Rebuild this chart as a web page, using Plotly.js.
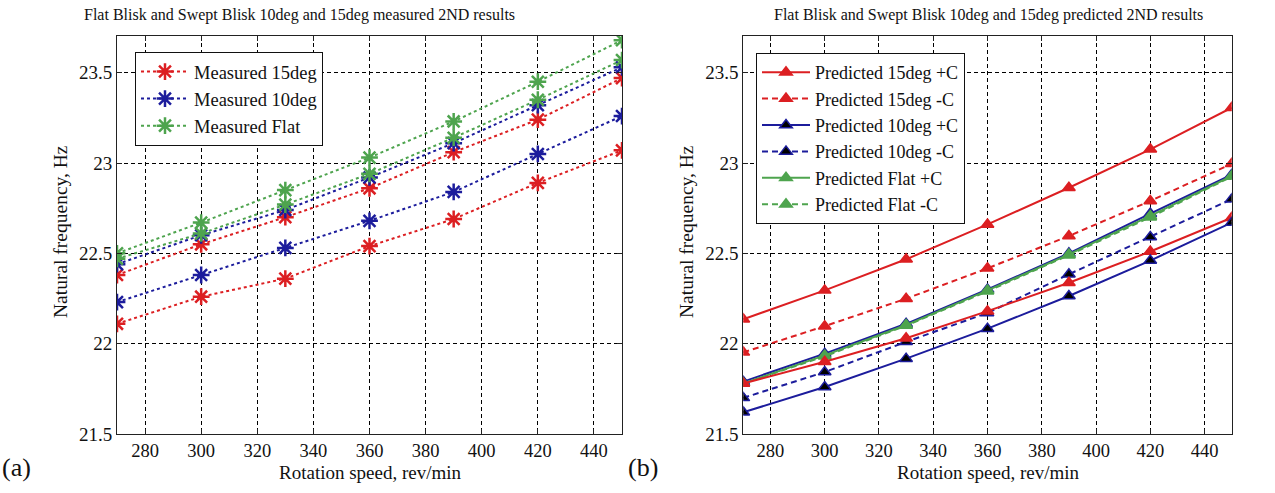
<!DOCTYPE html>
<html>
<head>
<meta charset="utf-8">
<script src="https://cdn.plot.ly/plotly-3.0.1.min.js"></script>
<style>html,body{margin:0;padding:0;background:#fff;}#chart{width:1275px;height:493px;}</style>
</head>
<body>
<div id="chart"></div>
<script>
// ---- data ----
var speeds = [270, 300, 330, 360, 390, 420, 450];
var xTicks = [280, 300, 320, 340, 360, 380, 400, 420, 440];
var yTicks = [21.5, 22, 22.5, 23, 23.5];

// (a) measured
var meas15A   = [22.38, 22.55, 22.70, 22.86, 23.06, 23.24, 23.47];
var meas15B   = [22.11, 22.26, 22.36, 22.54, 22.69, 22.89, 23.07];
var meas10A   = [22.44, 22.60, 22.74, 22.92, 23.11, 23.32, 23.53];
var meas10B   = [22.23, 22.38, 22.53, 22.68, 22.84, 23.05, 23.26];
var measFlatA = [22.50, 22.67, 22.85, 23.03, 23.23, 23.45, 23.68];
var measFlatB = [22.47, 22.61, 22.77, 22.94, 23.14, 23.35, 23.57];

// (b) predicted
var pred15P    = [22.135, 22.295, 22.467, 22.66, 22.863, 23.076, 23.306];
var pred15M    = [21.952, 22.097, 22.249, 22.417, 22.596, 22.79, 22.996];
var pred15PLow = [21.78, 21.90, 22.03, 22.18, 22.337, 22.51, 22.697];
var pred10P    = [21.79, 21.945, 22.11, 22.30, 22.50, 22.72, 22.935];
var pred10M    = [21.70, 21.843, 22.01, 22.17, 22.384, 22.59, 22.80];
var pred10PLow = [21.62, 21.76, 21.917, 22.083, 22.264, 22.46, 22.67];
var predFlatP  = [21.78, 21.935, 22.103, 22.295, 22.494, 22.707, 22.928];
var predFlatM  = [21.78, 21.93, 22.10, 22.29, 22.49, 22.70, 22.925];

var namesA = ['Measured 15deg', 'Measured 10deg', 'Measured Flat'];
var namesB = ['Predicted 15deg +C', 'Predicted 15deg -C', 'Predicted 10deg +C',
              'Predicted 10deg -C', 'Predicted Flat +C', 'Predicted Flat -C'];
var titleA = 'Flat Blisk and Swept Blisk 10deg and 15deg measured 2ND results';
var titleB = 'Flat Blisk and Swept Blisk 10deg and 15deg predicted 2ND results';
var xTitle = 'Rotation speed, rev/min';
var yTitle = 'Natural frequency, Hz';

// ---- styles ----
var RED = '#dc1f22', BLUE = '#1c1c9c', GREEN = '#4ea44e';
var FONT = 'Liberation Serif, Times New Roman, serif';
var W = 1275, H = 493;

function meas(y, color, name, show) {
  return {x: speeds, y: y, xaxis: 'x', yaxis: 'y', type: 'scatter', mode: 'lines+markers',
    name: name, showlegend: show, legend: 'legend',
    line: {color: color, width: 2, dash: 'dot'},
    marker: {symbol: 'asterisk-open', size: 14, color: color, line: {color: color, width: 2.5}}};
}
function pred(y, color, fill, dash, name, show) {
  return {x: speeds, y: y, xaxis: 'x2', yaxis: 'y2', type: 'scatter', mode: 'lines+markers',
    name: name, showlegend: show, legend: 'legend2',
    line: {color: color, width: 2, dash: dash},
    marker: {symbol: 'triangle-up', size: 11, color: fill, line: {color: color, width: 1.5}}};
}

var traces = [
  meas(meas15A, RED, namesA[0], true),
  meas(meas10A, BLUE, namesA[1], true),
  meas(measFlatA, GREEN, namesA[2], true),
  meas(meas15B, RED, namesA[0], false),
  meas(meas10B, BLUE, namesA[1], false),
  meas(measFlatB, GREEN, namesA[2], false),

  pred(pred15P, RED, RED, 'solid', namesB[0], true),
  pred(pred15M, RED, RED, '6px,4px', namesB[1], true),
  pred(pred10P, BLUE, '#000', 'solid', namesB[2], true),
  pred(pred10M, BLUE, '#000', '6px,4px', namesB[3], true),
  pred(predFlatP, GREEN, GREEN, 'solid', namesB[4], true),
  pred(predFlatM, GREEN, GREEN, '6px,4px', namesB[5], true),
  pred(pred15PLow, RED, RED, 'solid', namesB[0], false),
  pred(pred10PLow, BLUE, '#000', 'solid', namesB[2], false)
];

function xax(domain, anchor) {
  return {domain: domain, anchor: anchor, range: [270, 450], tickvals: xTicks,
    ticks: 'inside', ticklen: 5, tickcolor: '#222', mirror: 'ticks',
    showline: true, linecolor: '#222', linewidth: 1,
    showgrid: true, gridcolor: '#000', gridwidth: 1, griddash: '4px,3px',
    zeroline: false, tickfont: {family: FONT, size: 18.5, color: '#111'}};
}
function yax(domain, anchor) {
  return {domain: domain, anchor: anchor, range: [21.5, 23.703], tickvals: yTicks,
    ticks: 'inside', ticklen: 5, tickcolor: '#222', mirror: 'ticks',
    showline: true, linecolor: '#222', linewidth: 1,
    showgrid: true, gridcolor: '#000', gridwidth: 1, griddash: '4px,3px',
    zeroline: false, tickfont: {family: FONT, size: 19, color: '#111'}};
}
var yDom = [1 - 434 / H, 1 - 36 / H];

function ann(text, px, py, size, angle) {
  return {text: text, xref: 'paper', yref: 'paper', x: px / W, y: 1 - py / H,
    xanchor: 'center', yanchor: 'middle', showarrow: false, textangle: angle || 0,
    font: {family: FONT, size: size, color: '#111'}};
}

var legendStyle = function (px, py, fs, ew) {
  return {x: px / W, y: 1 - py / H, xanchor: 'left', yanchor: 'top',
    bgcolor: '#fff', bordercolor: '#111', borderwidth: 1,
    font: {family: FONT, size: fs, color: '#111'}, itemwidth: 48, tracegroupgap: 0,
    entrywidth: ew, entrywidthmode: 'pixels'};
};

var layout = {
  width: W, height: H, margin: {l: 0, r: 0, t: 0, b: 0},
  paper_bgcolor: '#fff', plot_bgcolor: '#fff',
  xaxis: xax([117 / W, 622 / W], 'y'),
  yaxis: yax(yDom, 'x'),
  xaxis2: xax([743.3 / W, 1231.7 / W], 'y2'),
  yaxis2: yax(yDom, 'x2'),
  legend: legendStyle(135, 52, 18.5, 195),
  legend2: legendStyle(756, 53, 18, 205),
  annotations: [
    ann(titleA, 299, 15, 16),
    ann(titleB, 988, 15, 16),
    ann(xTitle, 370, 472, 19),
    ann(xTitle, 988, 472, 19),
    ann(yTitle, 60, 232, 19.5, -90),
    ann(yTitle, 686, 232, 19.5, -90),
    ann('(a)', 16, 467, 26),
    ann('(b)', 643, 467, 26)
  ]
};

Plotly.newPlot('chart', traces, layout, {displayModeBar: false, staticPlot: true});
</script>
</body>
</html>
